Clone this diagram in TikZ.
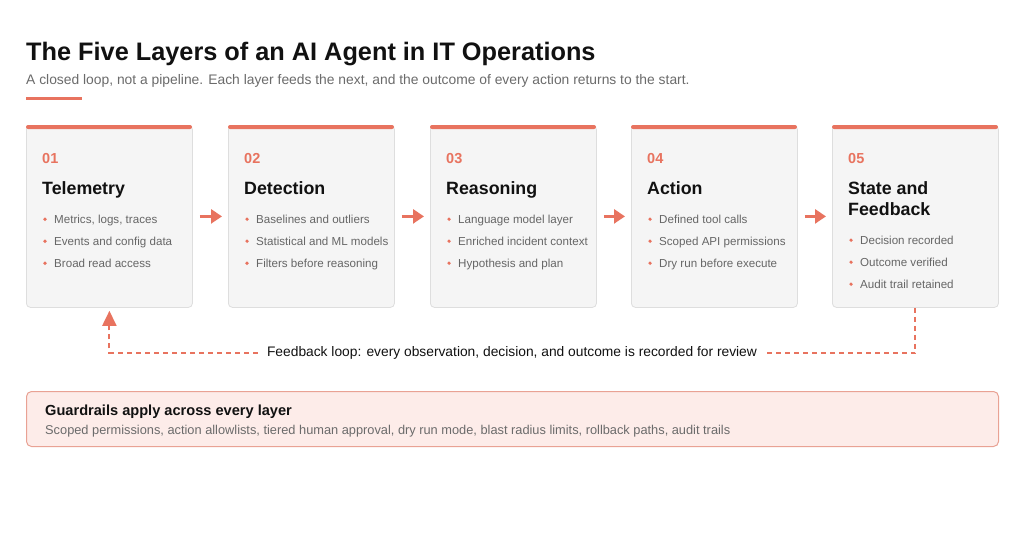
\documentclass[tikz,border=0pt]{standalone}
\usepackage{fontspec}
\setmainfont{Liberation Sans}
\usetikzlibrary{arrows.meta,calc,positioning}
\definecolor{accent}{HTML}{E8735F}
\definecolor{cardfill}{HTML}{F5F5F5}
\definecolor{cardline}{HTML}{DEDEDE}
\definecolor{titlecol}{HTML}{111111}
\definecolor{subcol}{HTML}{6B6B6B}
\definecolor{itemcol}{HTML}{666666}
\definecolor{guardfill}{HTML}{FDECE9}
\definecolor{guardline}{HTML}{E9A294}
\tikzset{
  card/.style={draw=cardline, fill=cardfill, line width=0.8pt, rounded corners=4pt,
    minimum width=166pt, minimum height=182pt, anchor=north west, inner sep=0pt},
  num/.style={anchor=base west, inner sep=0pt, text=accent,
    font=\fontsize{14.5}{16}\selectfont\bfseries},
  heading/.style={anchor=base west, inner sep=0pt, text=titlecol,
    font=\fontsize{17.8}{20}\selectfont\bfseries},
  item/.style={anchor=base west, inner sep=0pt, text=itemcol,
    font=\fontsize{11.6}{13}\selectfont},
  dot/.style={circle, fill=accent, inner sep=0pt, minimum size=3.6pt},
  flow/.style={draw=accent, line width=2.5pt, -{Triangle[length=11pt,width=14pt]},
    shorten <=7pt, shorten >=6pt},
  loopline/.style={draw=accent, line width=2pt, dash pattern=on 5pt off 4pt},
}
\begin{document}
\begin{tikzpicture}[x=1pt,y=-1pt]
  \fill[white] (0,0) rectangle (1024,538);
  \useasboundingbox (0,0) rectangle (1024,538);

  \node[anchor=base west, inner sep=0pt, text=titlecol,
    font=\fontsize{25.3}{28}\selectfont\bfseries] (title) at (26,60)
    {The Five Layers of an AI Agent in IT Operations};
  \node[anchor=base west, inner sep=0pt, text=subcol,
    font=\fontsize{13.85}{16}\selectfont] (subtitle) at (26,84)
    {A closed loop, not a pipeline. Each layer feeds the next, and the outcome of every action returns to the start.};
  \fill[accent] (26,97) rectangle (82,100);

  \foreach \i/\x/\dy/\num/\head/\a/\b/\c in {
      1/26/0/01/Telemetry/{Metrics, logs, traces}/Events and config data/Broad read access,
      2/228/0/02/Detection/Baselines and outliers/Statistical and ML models/Filters before reasoning,
      3/430/0/03/Reasoning/Language model layer/Enriched incident context/Hypothesis and plan,
      4/631/0/04/Action/Defined tool calls/Scoped API permissions/Dry run before execute,
      5/832/21/05/State and/Decision recorded/Outcome verified/Audit trail retained}{
    \node[card] (c\i) at (\x,125) {};
    \fill[accent, rounded corners=2pt] (c\i.north west) rectangle ++(166,4);
    \node[num] (n\i) at ($(c\i.north west)+(16,38)$) {\num};
    \node[heading] (h\i) at ($(c\i.north west)+(16,69)$) {\head};
    \node[item] (a\i) at ($(c\i.north west)+(28,98+\dy)$) {\a};
    \node[item] (b\i) at ($(c\i.north west)+(28,120+\dy)$) {\b};
    \node[item] (d\i) at ($(c\i.north west)+(28,142+\dy)$) {\c};
    \node[dot] at ($(a\i.base west)+(-9,-3.8)$) {};
    \node[dot] at ($(b\i.base west)+(-9,-3.8)$) {};
    \node[dot] at ($(d\i.base west)+(-9,-3.8)$) {};
  }
  \node[heading] (h5b) at ($(c5.north west)+(16,90)$) {Feedback};

  \draw[flow] (c1) -- (c2);
  \draw[flow] (c2) -- (c3);
  \draw[flow] (c3) -- (c4);
  \draw[flow] (c4) -- (c5);

  \node[inner xsep=9pt, inner ysep=0pt, text height=10pt, text depth=2.7pt, text=titlecol,
    font=\fontsize{13.8}{15}\selectfont] (fb) at (512,353)
    {Feedback loop: every observation, decision, and outcome is recorded for review};
  \draw[loopline] (c5.south) |- (fb.east);
  \draw[loopline] (fb.west) -| ([yshift=-20pt]c1.south);
  \draw[draw=accent, line width=2pt, -{Triangle[length=15pt,width=14pt]}, shorten >=3pt]
    ([yshift=-21pt]c1.south) -- (c1.south);

  \node[draw=guardline, fill=guardfill, line width=1pt, rounded corners=5pt, anchor=north west,
    minimum width=972pt, minimum height=55pt, inner sep=0pt] (guard) at (26,391) {};
  \node[anchor=base west, inner sep=0pt, text=titlecol,
    font=\fontsize{14.6}{16}\selectfont\bfseries] (gtitle) at (45,415)
    {Guardrails apply across every layer};
  \node[anchor=base west, inner sep=0pt, text=subcol,
    font=\fontsize{12.8}{14}\selectfont] (gtext) at (45,434.5)
    {Scoped permissions, action allowlists, tiered human approval, dry run mode, blast radius limits, rollback paths, audit trails};
\end{tikzpicture}
\end{document}
